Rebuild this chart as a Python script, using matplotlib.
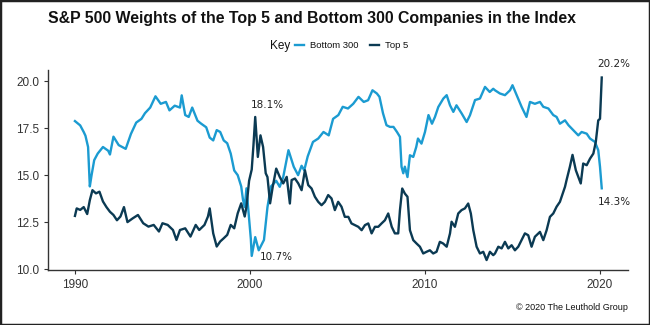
import matplotlib
matplotlib.use("Agg")
import matplotlib.pyplot as plt
from matplotlib.patches import Rectangle

# Bottom 300 weight (%): decimal year, value
bottom_years = [1990.0, 1990.3, 1990.5, 1990.6, 1990.75, 1990.8, 1990.85, 1990.95, 1991.1, 1991.3, 1991.6, 1991.9,
                1992.0, 1992.2, 1992.5, 1992.9, 1993.2, 1993.5, 1993.8, 1994.0, 1994.3, 1994.6, 1994.9,
                1995.2, 1995.4, 1995.7, 1996.0, 1996.1, 1996.3, 1996.5, 1996.7, 1997.0, 1997.2, 1997.5,
                1997.7, 1997.9, 1998.1, 1998.3, 1998.5, 1998.7, 1998.9, 1999.1, 1999.3, 1999.5, 1999.6,
                1999.7, 1999.8, 1999.9, 2000.05, 2000.1, 2000.3, 2000.5, 2000.8, 2001.0, 2001.2, 2001.5,
                2001.7, 2001.9, 2002.2, 2002.5, 2002.75, 2002.95, 2003.1, 2003.3, 2003.6, 2003.9, 2004.2,
                2004.5, 2004.75, 2005.05, 2005.3, 2005.6, 2005.9, 2006.2, 2006.5, 2006.75, 2007.0, 2007.25,
                2007.4, 2007.6, 2007.8, 2008.0, 2008.2, 2008.4, 2008.57, 2008.66, 2008.76, 2008.85, 2009.0,
                2009.14, 2009.33, 2009.5, 2009.6, 2009.8, 2010.0, 2010.2, 2010.4, 2010.57, 2010.76, 2011.05,
                2011.24, 2011.43, 2011.62, 2011.8, 2012.1, 2012.38, 2012.57, 2012.86, 2013.14, 2013.43,
                2013.7, 2013.9, 2014.0, 2014.28, 2014.57, 2014.86, 2015.0, 2015.24, 2015.52, 2015.8, 2016.0,
                2016.28, 2016.57, 2016.76, 2017.05, 2017.33, 2017.52, 2017.71, 2018.0, 2018.2, 2018.47,
                2018.76, 2018.95, 2019.24, 2019.43, 2019.71, 2019.9, 2020.0, 2020.1]
bottom_vals = [17.88, 17.65, 17.3, 17.1, 16.5, 15.4, 14.4, 15.0, 15.8, 16.15, 16.5, 16.3,
               16.1, 17.05, 16.6, 16.4, 17.2, 17.8, 18.0, 18.3, 18.6, 19.2, 18.8,
               18.9, 18.45, 18.7, 18.6, 19.25, 18.2, 18.1, 18.6, 17.9, 17.75, 17.55,
               17.0, 16.85, 17.4, 17.3, 16.85, 16.7, 16.15, 15.25, 15.0, 14.4, 13.7,
               13.3, 14.3, 13.2, 11.6, 10.7, 11.7, 11.0, 11.55, 13.3, 14.4, 14.7,
               14.38, 14.9, 16.33, 15.45, 15.0, 15.5, 15.26, 16.0, 16.77, 16.95, 17.3,
               17.12, 18.0, 18.2, 18.64, 18.55, 18.8, 19.17, 18.9, 18.99, 19.52, 19.35,
               19.17, 18.3, 17.66, 17.57, 17.57, 17.3, 17.04, 15.45, 15.1, 15.45, 14.9,
               16.06, 15.97, 16.5, 16.95, 16.68, 17.3, 18.2, 17.74, 18.1, 18.63, 19.08,
               19.26, 18.72, 18.37, 18.72, 18.28, 17.83, 18.19, 19.0, 19.08, 19.7,
               19.43, 19.6, 19.52, 19.35, 19.26, 19.52, 19.79, 19.26, 18.64, 18.1, 18.9,
               18.8, 18.9, 18.64, 18.55, 18.2, 18.1, 17.74, 17.92, 17.66, 17.4,
               17.12, 17.3, 17.21, 16.95, 16.77, 16.33, 15.45, 14.3]

# Top 5 weight (%): decimal year, value
top_years = [1990.0, 1990.1, 1990.3, 1990.5, 1990.7, 1990.85, 1991.0, 1991.2, 1991.4, 1991.6, 1991.8,
             1992.0, 1992.2, 1992.4, 1992.6, 1992.8, 1993.0, 1993.3, 1993.6, 1993.9, 1994.2, 1994.5,
             1994.8, 1995.0, 1995.3, 1995.6, 1995.8, 1996.0, 1996.3, 1996.6, 1996.9, 1997.1, 1997.4,
             1997.6, 1997.7, 1997.9, 1998.1, 1998.3, 1998.5, 1998.7, 1998.9, 1999.1, 1999.3, 1999.5,
             1999.7, 1999.8, 1999.95, 2000.1, 2000.2, 2000.3, 2000.45, 2000.6, 2000.75, 2000.9, 2001.0,
             2001.15, 2001.3, 2001.5, 2001.7, 2001.9, 2002.1, 2002.28, 2002.38, 2002.57, 2002.76,
             2002.95, 2003.14, 2003.33, 2003.52, 2003.71, 2003.9, 2004.09, 2004.28, 2004.47, 2004.66,
             2004.85, 2005.04, 2005.23, 2005.42, 2005.62, 2005.8, 2006.0, 2006.19, 2006.38, 2006.57,
             2006.76, 2006.95, 2007.14, 2007.33, 2007.52, 2007.71, 2007.9, 2008.1, 2008.28, 2008.47,
             2008.57, 2008.7, 2008.85, 2009.0, 2009.14, 2009.33, 2009.52, 2009.71, 2009.9, 2010.09,
             2010.28, 2010.47, 2010.66, 2010.85, 2011.04, 2011.24, 2011.43, 2011.52, 2011.71, 2011.9,
             2012.09, 2012.28, 2012.47, 2012.62, 2012.76, 2012.95, 2013.14, 2013.33, 2013.52, 2013.71,
             2013.9, 2014.0, 2014.19, 2014.38, 2014.57, 2014.76, 2014.95, 2015.14, 2015.33, 2015.52,
             2015.71, 2015.9, 2016.09, 2016.28, 2016.57, 2016.76, 2016.95, 2017.14, 2017.33, 2017.52,
             2017.71, 2018.0, 2018.09, 2018.28, 2018.43, 2018.62, 2018.76, 2018.9, 2019.04, 2019.24,
             2019.43, 2019.62, 2019.76, 2019.9, 2020.0, 2020.1]
top_vals = [12.83, 13.23, 13.15, 13.3, 12.93, 13.67, 14.2, 14.03, 14.12, 13.6, 13.3,
            13.05, 12.88, 12.6, 12.8, 13.3, 12.5, 12.7, 12.88, 12.44, 12.26, 12.35,
            12.0, 12.44, 12.35, 12.08, 11.55, 12.08, 12.17, 11.73, 12.35, 12.08, 12.35,
            12.8, 13.23, 11.9, 11.2, 11.47, 11.64, 11.82, 12.35, 12.17, 12.97, 13.5,
            12.8, 13.32, 14.7, 15.3, 16.6, 18.1, 15.97, 17.12, 16.5, 15.1, 14.9,
            13.5, 14.38, 15.35, 14.91, 14.56, 14.91, 13.49, 14.74, 14.82, 14.56,
            14.2, 15.26, 14.47, 14.29, 13.85, 13.58, 13.4, 13.58, 13.94, 13.76,
            13.14, 13.58, 13.32, 12.78, 12.78, 12.43, 12.34, 12.25, 12.07, 12.34,
            12.43, 11.9, 12.25, 12.25, 12.43, 12.6, 12.96, 12.25, 11.9, 11.9,
            13.14, 14.29, 14.02, 13.85, 12.07, 11.54, 11.36, 11.19, 10.83, 10.92,
            11.0, 10.83, 10.92, 11.45, 11.36, 11.19, 11.9, 12.52, 12.25, 12.96,
            13.14, 13.23, 13.49, 12.96, 12.07, 11.19, 10.83, 10.92, 10.48, 10.92,
            10.74, 10.83, 11.19, 11.1, 11.45, 11.1, 11.27, 11.0, 11.19, 11.54,
            11.9, 11.8, 11.19, 11.72, 11.98, 11.54, 12.07, 12.78, 12.96, 13.32,
            13.58, 14.38, 14.74, 15.45, 16.08, 15.26, 14.91, 14.56, 15.62, 15.53,
            15.88, 16.15, 16.77, 17.92, 18.0, 20.2]

x_ticks = [1990, 2000, 2010, 2020]
y_ticks = [10.0, 12.5, 15.0, 17.5, 20.0]

title = "S&P 500 Weights of the Top 5 and Bottom 300 Companies in the Index"
light = "#1b9bd1"
dark = "#0b3a53"
txt = "#333333"

plt.rcParams["font.family"] = ["Liberation Sans", "DejaVu Sans"]

fig = plt.figure(figsize=(6.5, 3.25), dpi=100)
ax = fig.add_axes([48 / 650, 55 / 325, 580 / 650, 200 / 325])

ax.plot(bottom_years, bottom_vals, color=light, lw=1.7, label="Bottom 300", solid_joinstyle="round")
ax.plot(top_years, top_vals, color=dark, lw=1.7, label="Top 5", solid_joinstyle="round")

ax.set_xlim(1988.46, 2021.6)
ax.set_ylim(9.95, 20.6)
ax.set_xticks(x_ticks)
ax.set_yticks(y_ticks)
ax.set_yticklabels([f"{v:.1f}" for v in y_ticks])
ax.tick_params(axis="both", colors=txt, labelsize=8.5, length=3, width=0.8, labelcolor=txt)
for s in ["top", "right"]:
    ax.spines[s].set_visible(False)
for s in ["left", "bottom"]:
    ax.spines[s].set_color(txt)
    ax.spines[s].set_linewidth(1.0)

ann_font = dict(fontsize=7.5, color="#222222", family=["DejaVu Sans"])
ax.annotate("18.1%", (2000.3, 18.1), xytext=(-3, 5), textcoords="offset points", ha="left", va="bottom", **ann_font)
ax.annotate("10.7%", (2000.1, 10.7), xytext=(6, -1), textcoords="offset points", ha="left", va="center", **ann_font)
ax.annotate("20.2%", (2020.1, 20.2), xytext=(-3, 6), textcoords="offset points", ha="left", va="bottom", **ann_font)
ax.annotate("14.3%", (2020.1, 14.3), xytext=(-3, -10), textcoords="offset points", ha="left", va="center", **ann_font)

fig.text(48 / 650, 1 - 18 / 325, title, fontsize=11.4, fontweight="bold", color="#111111", ha="left", va="center")

fig.text(270 / 650, 1 - 45.5 / 325, "Key", fontsize=8.5, color="#111111", ha="left", va="center")
fig.legend(loc="center left", bbox_to_anchor=(290 / 650, 1 - 45.5 / 325), ncol=2, frameon=False,
           fontsize=6.8, handlelength=1.0, handletextpad=0.6, columnspacing=1.2, borderpad=0,
           labelcolor="#111111")

fig.text(628 / 650, 1 - 307 / 325, "© 2020 The Leuthold Group", fontsize=6.5, color="#111111", ha="right", va="center")

fig.add_artist(Rectangle((0, 0), 1, 1, transform=fig.transFigure, fill=False, edgecolor="#222222", lw=2.5))

fig.savefig("out.png", dpi=100, facecolor="white")
